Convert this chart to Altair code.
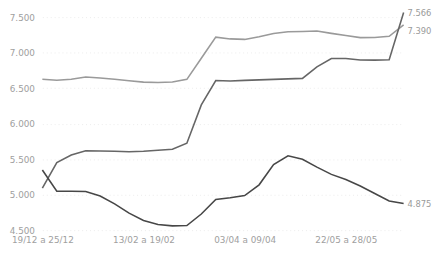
import altair as alt
import pandas as pd

weeks = [
    "19/12 a 25/12", "02/01 a 08/01", "09/01 a 15/01", "16/01 a 22/01", "23/01 a 29/01",
    "30/01 a 05/02", "06/02 a 12/02", "13/02 a 19/02", "20/02 a 26/02", "27/02 a 05/03",
    "06/03 a 12/03", "13/03 a 19/03", "20/03 a 26/03", "27/03 a 02/04", "03/04 a 09/04",
    "10/04 a 16/04", "17/04 a 23/04", "24/04 a 30/04", "01/05 a 07/05", "08/05 a 14/05",
    "15/05 a 21/05", "22/05 a 28/05", "29/05 a 04/06", "05/06 a 11/06", "12/06 a 18/06",
    "19/06 a 25/06",
]
top_series = [6624, 6610, 6626, 6657, 6643, 6624, 6604, 6584, 6580, 6586, 6623, 6920, 7218,
              7193, 7186, 7223, 7270, 7295, 7298, 7304, 7271, 7241, 7211, 7214, 7230, 7390]
mid_series = [5090, 5450, 5559, 5618, 5614, 5610, 5605, 5610, 5624, 5639, 5724, 6264, 6607,
              6601, 6609, 6616, 6623, 6630, 6637, 6799, 6916, 6917, 6896, 6894, 6900, 7566]
low_series = [5346, 5047, 5047, 5044, 4980, 4869, 4739, 4637, 4579, 4560, 4565, 4727, 4932,
              4956, 4986, 5138, 5423, 5546, 5497, 5388, 5285, 5212, 5122, 5015, 4910, 4875]
series_names = ["A", "B", "C"]
series_colors = ["#9a9a9a", "#666666", "#474747"]
shown_labels = ["19/12 a 25/12", "13/02 a 19/02", "03/04 a 09/04", "22/05 a 28/05"]
y_ticks = [4500, 5000, 5500, 6000, 6500, 7000, 7500]

rows = []
for name, vals in zip(series_names, [top_series, mid_series, low_series]):
    for w, v in zip(weeks, vals):
        rows.append({"week": w, "serie": name, "v": v})
df = pd.DataFrame(rows)

fmt = "replace(format(datum.value, ','), ',', '.')"

x = alt.X("week:O", sort=weeks, title=None,
          scale=alt.Scale(type="point", padding=0),
          axis=alt.Axis(labelAngle=0, ticks=False, domain=False, grid=False,
                        values=shown_labels, labelPadding=6, labelFontSize=9,
                        labelOverlap=False,
                        labelColor="#a0a0a0", labelFont="DejaVu Sans"))
y = alt.Y("v:Q", title=None, scale=alt.Scale(domain=[4500, 7500], nice=False, zero=False),
          axis=alt.Axis(values=y_ticks, labelExpr=fmt, labelOverlap=False,
                        ticks=False, domain=False, labelPadding=8, labelFontSize=9,
                        labelColor="#a0a0a0", labelFont="DejaVu Sans",
                        gridColor="#ececec", gridDash=[1, 3]))
color = alt.Color("serie:N", scale=alt.Scale(domain=series_names, range=series_colors), legend=None)

lines = alt.Chart(df).mark_line(strokeWidth=1.6, clip=False).encode(x=x, y=y, color=color)

last = alt.Chart(df).transform_filter(alt.datum.week == weeks[-1]).transform_calculate(
    lbl="replace(format(datum.v, ','), ',', '.')")

lab_main = last.transform_filter(alt.datum.serie != "A").mark_text(
    align="left", dx=4, dy=1, fontSize=8.5, font="DejaVu Sans", color="#9a9a9a"
).encode(x=x, y=y, text="lbl:N")
lab_top = last.transform_filter(alt.datum.serie == "A").mark_text(
    align="left", dx=4, dy=6, fontSize=8.5, font="DejaVu Sans", color="#9a9a9a"
).encode(x=x, y=y, text="lbl:N")

chart = alt.layer(lines, lab_main, lab_top).properties(
    width=368, height=217,
    autosize=alt.AutoSizeParams(type="none"),
    padding={"left": 35, "top": 7, "right": 34, "bottom": 20},
    background="white",
).configure_view(stroke=None)

chart.save("out.html", embed_options={"renderer": "svg", "actions": False})
